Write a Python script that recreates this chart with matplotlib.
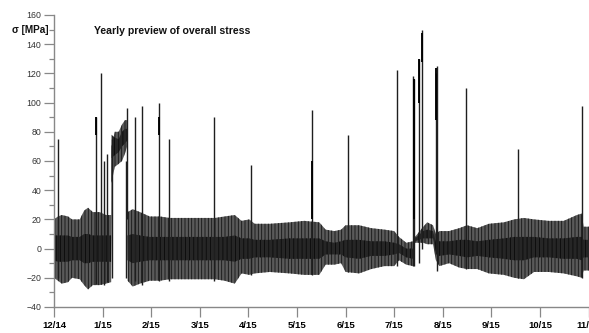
import numpy as np
import matplotlib
matplotlib.use('Agg')
import matplotlib.pyplot as plt

plt.rcParams['font.family'] = ['Liberation Sans', 'DejaVu Sans']
plt.rcParams['hatch.linewidth'] = 0.6

# Month ticks (one unit = one month, 12/14 = 0)
month_labels = ['12/14', '1/15', '2/15', '3/15', '4/15', '5/15',
                '6/15', '7/15', '8/15', '9/15', '10/15', '11/15']

# Envelope of the daily stress oscillation band [MPa]
band_t = [0.00, 0.08, 0.16, 0.29, 0.37, 0.53, 0.62, 0.70, 0.80, 0.94, 1.07, 1.175,
          1.185, 1.25, 1.33, 1.40, 1.46, 1.505,
          1.515, 1.62, 1.77, 1.97, 2.18, 2.38, 2.69, 3.00, 3.31, 3.51, 3.72, 3.86,
          4.02, 4.13, 4.44, 4.85, 5.15, 5.46, 5.59, 5.77, 5.91, 6.00, 6.28, 6.53,
          6.80, 7.00, 7.10, 7.25, 7.39, 7.43, 7.60, 7.68, 7.80, 7.86, 7.93, 8.13,
          8.34, 8.50, 8.71, 8.95, 9.26, 9.47, 9.67, 9.88, 10.18, 10.49, 10.76,
          10.86, 10.90, 11.01]
band_hi = [20, 22, 23, 22, 20, 20, 26, 28, 25, 25, 23, 23,
           70, 80, 80, 85, 88, 88,
           25, 27, 25, 22, 22, 21, 21, 21, 21, 22, 23, 19,
           20, 17, 17, 18, 19, 18, 13, 12, 13, 16, 16, 14,
           13, 12, 8, 4, 5, 8, 15, 18, 16, 10, 12, 12,
           14, 16, 14, 17, 18, 20, 21, 20, 19, 19, 23,
           24, 15, 15]
band_lo = [-20, -22, -24, -23, -20, -21, -25, -28, -25, -25, -24, -23,
           45, 56, 58, 60, 65, 70,
           -22, -26, -24, -22, -22, -21, -21, -21, -21, -22, -24, -17,
           -18, -17, -16, -17, -18, -18, -11, -11, -10, -16, -17, -14,
           -12, -12, -8, -11, -12, 4, 4, 3, 3, -8, -12, -10,
           -13, -14, -14, -17, -18, -20, -21, -16, -16, -17, -19,
           -20, -15, -15]
core_hi = [9, 9, 9, 9, 8, 8, 10, 10, 9, 9, 9, 9,
           78, 76, 75, 80, 82, 82,
           9, 10, 9, 8, 8, 8, 8, 8, 8, 8, 9, 7,
           7, 6, 6, 7, 7, 7, 5, 4, 5, 6, 6, 5,
           5, 4, 3, 0, 0, 7, 12, 13, 12, 4, 5, 5,
           6, 6, 5, 6, 7, 8, 8, 8, 7, 7, 8,
           8, 6, 6]
core_lo = [-8, -9, -9, -9, -8, -8, -10, -10, -9, -9, -9, -9,
           62, 64, 66, 70, 72, 74,
           -8, -10, -9, -8, -8, -8, -8, -8, -8, -8, -9, -7,
           -7, -6, -6, -7, -7, -7, -4, -4, -4, -6, -7, -5,
           -5, -4, -3, -6, -7, 5, 7, 7, 7, -2, -5, -4,
           -5, -6, -5, -6, -7, -8, -8, -6, -6, -7, -7,
           -8, -6, -6]

# Isolated stress peaks: time, lower end, upper end [MPa]
peak_t = [0.08, 0.86, 0.96, 1.03, 1.10, 1.19, 1.49, 1.50, 1.66, 1.81, 2.16, 2.37,
          3.29, 4.05, 5.30, 6.05, 7.05, 7.39, 7.41, 7.52, 7.58, 7.86, 7.89,
          8.48, 9.55, 10.87]
peak_lo = [-20, -24, -24, -25, -23, -20, -20, 20, -22, -25, -22, -22,
           -22, -18, -18, -16, -12, -12, -12, -10, 0, -4, -15,
           -14, -20, -20]
peak_hi = [75, 90, 120, 60, 65, 75, 60, 96, 90, 98, 100, 75,
           90, 57, 95, 78, 122, 118, 116, 130, 150, 120, 125,
           110, 68, 98]

# Heavier (overplotted) parts of some peaks
heavy_t = [0.86, 2.16, 5.30, 7.40, 7.52, 7.58, 7.86]
heavy_lo = [78, 78, 20, 20, 100, 128, 88]
heavy_hi = [90, 90, 60, 116, 130, 148, 124]

fig = plt.figure(figsize=(5.89, 3.33), dpi=100)
ax = fig.add_axes([54 / 589, 26 / 333, (589 - 54) / 589, (307 - 15) / 333])

t = np.array(band_t)
ax.fill_between(t, band_lo, band_hi, facecolor='#5a5a5a', edgecolor='#141414',
                hatch='|||||', linewidth=0)
ax.fill_between(t, core_lo, core_hi, facecolor='#262626', edgecolor='#0a0a0a',
                hatch='||||', linewidth=0)
ax.vlines(peak_t, peak_lo, peak_hi, color='#1e1e1e', linewidth=1.0)
ax.vlines(heavy_t, heavy_lo, heavy_hi, color='#000000', linewidth=1.35)

ax.set_xlim(0, 11.01)
ax.set_ylim(-40, 160)
ax.set_xticks(range(len(month_labels)))
ax.set_xticklabels(month_labels, fontsize=6.8, fontweight='bold', color='black')
ax.set_yticks(range(-40, 161, 20))
ax.set_yticks(range(-30, 160, 20), minor=True)
ax.tick_params(axis='both', which='major', direction='out', length=7, width=0.9,
               color='#888888')
ax.tick_params(axis='y', which='minor', direction='out', length=3.6, width=0.9,
               color='#888888')
ax.tick_params(axis='y', labelsize=6.3, labelcolor='#333333', pad=2)
ax.tick_params(axis='x', pad=3)

for side in ['top', 'right']:
    ax.spines[side].set_visible(False)
for side in ['left', 'bottom']:
    ax.spines[side].set_color('#888888')
    ax.spines[side].set_linewidth(1.0)

ax.annotate('σ [MPa]', xy=(0, 150), xycoords=('axes fraction', 'data'),
            xytext=(-4, 0), textcoords='offset points', ha='right', va='center',
            fontsize=7.2, fontweight='bold', color='#111111')
fig.text(94 / 589, 1 - 31.5 / 333, 'Yearly preview of overall stress',
         ha='left', va='center', fontsize=7.6, fontweight='bold', color='#111111')

fig.savefig('out.png', dpi=100)
